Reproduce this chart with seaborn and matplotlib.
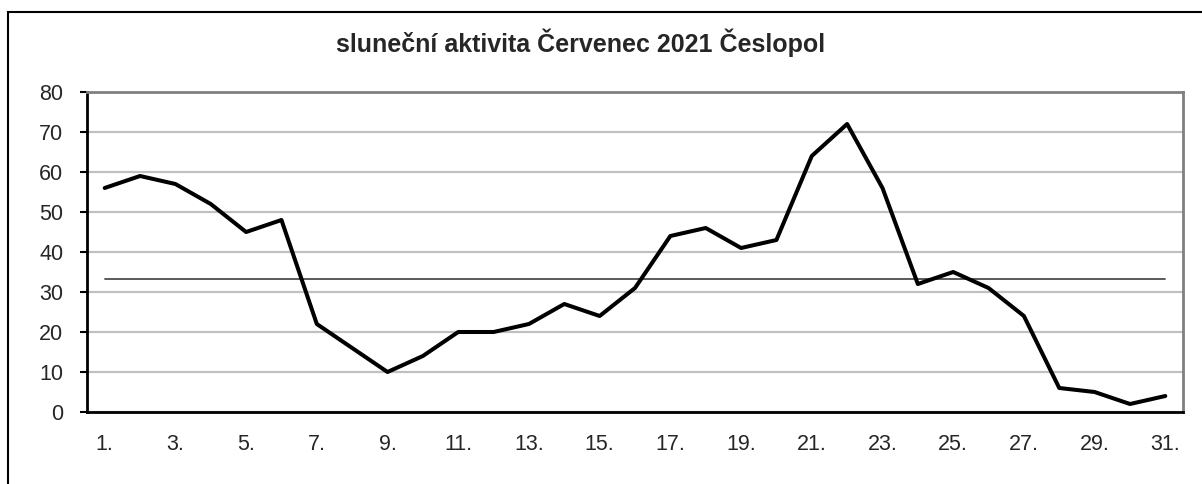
import numpy as np
import pandas as pd
import matplotlib
matplotlib.use("Agg")
import matplotlib.pyplot as plt
import seaborn as sns
from matplotlib.patches import Rectangle
from matplotlib.ticker import FixedLocator

# daily values
days = list(range(1, 32))
activity = [56, 59, 57, 52, 45, 48, 22, 16, 10, 14,
            20, 20, 22, 27, 24, 31, 44, 46, 41, 43,
            64, 72, 56, 32, 35, 31, 24, 6, 5, 2, 4]
day_labels = [f"{d}." for d in days]

df = pd.DataFrame({"pos": np.arange(len(days)), "den": day_labels, "aktivita": activity})
mean_val = np.mean(activity)

sns.set_style("white")
plt.rcParams["font.family"] = ["Liberation Sans", "DejaVu Sans"]

fig = plt.figure(figsize=(12.02, 4.84), dpi=100)
ax = fig.add_axes([87 / 1202, 1 - 412 / 484, (1183 - 87) / 1202, (412 - 92) / 484])

# grid
ax.set_ylim(0, 80)
ax.set_yticks(range(0, 81, 10))
ax.yaxis.grid(True, color="#c0c0c0", linewidth=1.6)
ax.set_axisbelow(True)

# mean line
ax.plot([df["pos"].iloc[0], df["pos"].iloc[-1]], [mean_val, mean_val],
        color="#4d4d4d", linewidth=1.3, zorder=2)

sns.lineplot(data=df, x="pos", y="aktivita", color="black", linewidth=2.9, ax=ax, zorder=3)

ax.set_xlim(-0.5, len(days) - 0.5)
ax.xaxis.set_major_locator(FixedLocator(df["pos"].iloc[::2].tolist()))
ax.set_xticklabels(df["den"].iloc[::2].tolist())
ax.xaxis.set_minor_locator(FixedLocator(np.arange(len(days) + 1) - 0.5))
ax.tick_params(axis="x", which="major", length=0, pad=16, labelsize=15.5)
ax.tick_params(axis="x", which="minor", length=5, width=1.5, color="black", direction="out")
ax.tick_params(axis="y", which="major", length=5, width=1.5, color="black",
               direction="out", pad=12, labelsize=15.5, left=True)
ax.set_xlabel("")
ax.set_ylabel("")

for side in ["left", "bottom"]:
    ax.spines[side].set_color("black")
    ax.spines[side].set_linewidth(2)
for side in ["top", "right"]:
    ax.spines[side].set_color("#808080")
    ax.spines[side].set_linewidth(2)

fig.text(581 / 1202, 1 - 43 / 484, "sluneční aktivita Červenec 2021 Česlopol",
         ha="center", va="center", fontsize=18, fontweight="bold")

# outer chart frame
fig.patches.append(Rectangle((8 / 1202, -0.2), 1.2, 1.2 - 12 / 484,
                             transform=fig.transFigure, fill=False,
                             edgecolor="black", linewidth=1.5))

fig.savefig("out.png", dpi=100)
